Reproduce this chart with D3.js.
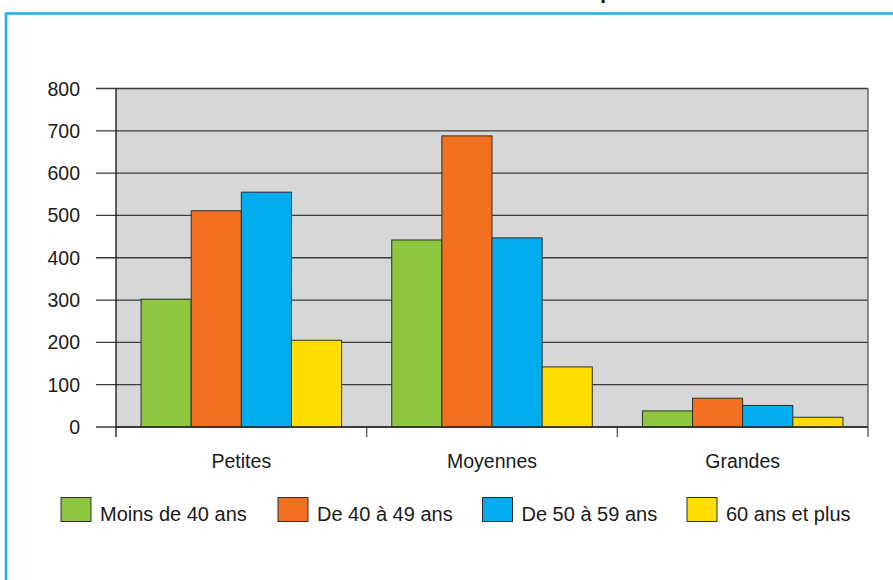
<!DOCTYPE html>
<meta charset="utf-8">
<style>
body { margin: 0; background: #fff; }
text { font-family: "Liberation Sans", Arial, sans-serif; fill: #1a1a1a; }
</style>
<svg width="893" height="580"></svg>
<script src="https://cdnjs.cloudflare.com/ajax/libs/d3/7.8.5/d3.min.js"></script>
<script>

// data
var categories = ["Petites", "Moyennes", "Grandes"];
var seriesNames = ["Moins de 40 ans", "De 40 à 49 ans", "De 50 à 59 ans", "60 ans et plus"];
var seriesColors = ["#8dc63f", "#f37021", "#00aeef", "#ffdd00"];
var moins40 = [302, 442, 38];
var de40a49 = [511, 688, 68];
var de50a59 = [555, 447, 51];
var plus60 = [205, 142, 23];
var yTicks = [0, 100, 200, 300, 400, 500, 600, 700, 800];

var series = [moins40, de40a49, de50a59, plus60];

var svg = d3.select("svg");

// blue frame, runs off the right and bottom edges
svg.append("rect")
    .attr("x", 6).attr("y", 13.5)
    .attr("width", 1000).attr("height", 1000)
    .attr("fill", "none")
    .attr("stroke", "#1cb0ea")
    .attr("stroke-width", 2.5);

// bit of the title that sticks into the top
svg.append("text")
    .attr("x", 600).attr("y", -2)
    .style("font-weight", "bold")
    .style("font-size", "22px")
    .text("p");

var plotLeft = 116, plotRight = 868, plotTop = 88.5, plotBottom = 427;

var x = d3.scaleBand().domain(categories).range([plotLeft, plotRight]).padding(0);
var xs = d3.scaleBand().domain(d3.range(series.length)).range([0, x.bandwidth()]).paddingInner(0).paddingOuter(0.5);
var y = d3.scaleLinear().domain([0, 800]).range([plotBottom, plotTop]);

// plot background
svg.append("rect")
    .attr("x", plotLeft).attr("y", plotTop)
    .attr("width", plotRight - plotLeft).attr("height", plotBottom - plotTop)
    .attr("fill", "#d6d7d7");

// grid lines + ticks
svg.append("g").selectAll("line")
    .data(yTicks)
    .enter().append("line")
    .attr("x1", 96).attr("x2", plotRight)
    .attr("y1", function(d) { return y(d); })
    .attr("y2", function(d) { return y(d); })
    .attr("stroke", "#3c3c3c")
    .attr("stroke-width", 1.3);

svg.append("g").selectAll("text")
    .data(yTicks)
    .enter().append("text")
    .attr("x", 80)
    .attr("y", function(d) { return y(d) + 7; })
    .attr("text-anchor", "end")
    .style("font-size", "19.5px")
    .text(function(d) { return d; });

// bars
var groups = svg.append("g").selectAll("g")
    .data(series)
    .enter().append("g")
    .attr("fill", function(d, i) { return seriesColors[i]; });

groups.each(function(vals, si) {
  d3.select(this).selectAll("rect")
    .data(vals)
    .enter().append("rect")
    .attr("x", function(d, ci) { return x(categories[ci]) + xs(si); })
    .attr("y", function(d) { return y(d); })
    .attr("width", xs.bandwidth())
    .attr("height", function(d) { return y(0) - y(d); })
    .attr("stroke", "#2e2e2e")
    .attr("stroke-width", 1);
});

// axis frame
svg.append("line")
    .attr("x1", plotLeft).attr("x2", plotLeft)
    .attr("y1", plotTop).attr("y2", plotBottom + 10)
    .attr("stroke", "#111").attr("stroke-width", 1.3);

var catEdges = categories.map(function(c) { return x(c); }).concat([plotRight]);
svg.append("g").selectAll("line")
    .data(catEdges.slice(1))
    .enter().append("line")
    .attr("x1", function(d) { return d; }).attr("x2", function(d) { return d; })
    .attr("y1", function(d) { return d == plotRight ? plotTop : plotBottom; })
    .attr("y2", plotBottom + 10)
    .attr("stroke", "#555").attr("stroke-width", 1.3);

svg.append("line")
    .attr("x1", plotLeft).attr("x2", plotRight)
    .attr("y1", plotBottom).attr("y2", plotBottom)
    .attr("stroke", "#2e2e2e").attr("stroke-width", 1.3);

// category labels
svg.append("g").selectAll("text")
    .data(categories)
    .enter().append("text")
    .attr("x", function(d) { return x(d) + x.bandwidth() / 2; })
    .attr("y", 468)
    .attr("text-anchor", "middle")
    .style("font-size", "19.5px")
    .text(function(d) { return d; });

// legend
var legendX = [61, 278, 482.5, 687];
var legend = svg.append("g").selectAll("g")
    .data(seriesNames)
    .enter().append("g")
    .attr("transform", function(d, i) { return "translate(" + legendX[i] + ",497.5)"; });

legend.append("rect")
    .attr("width", 30).attr("height", 24)
    .attr("fill", function(d, i) { return seriesColors[i]; })
    .attr("stroke", "#2e2e2e")
    .attr("stroke-width", 1);

legend.append("text")
    .attr("x", 39).attr("y", 23)
    .style("font-size", "20px")
    .text(function(d) { return d; });

</script>
